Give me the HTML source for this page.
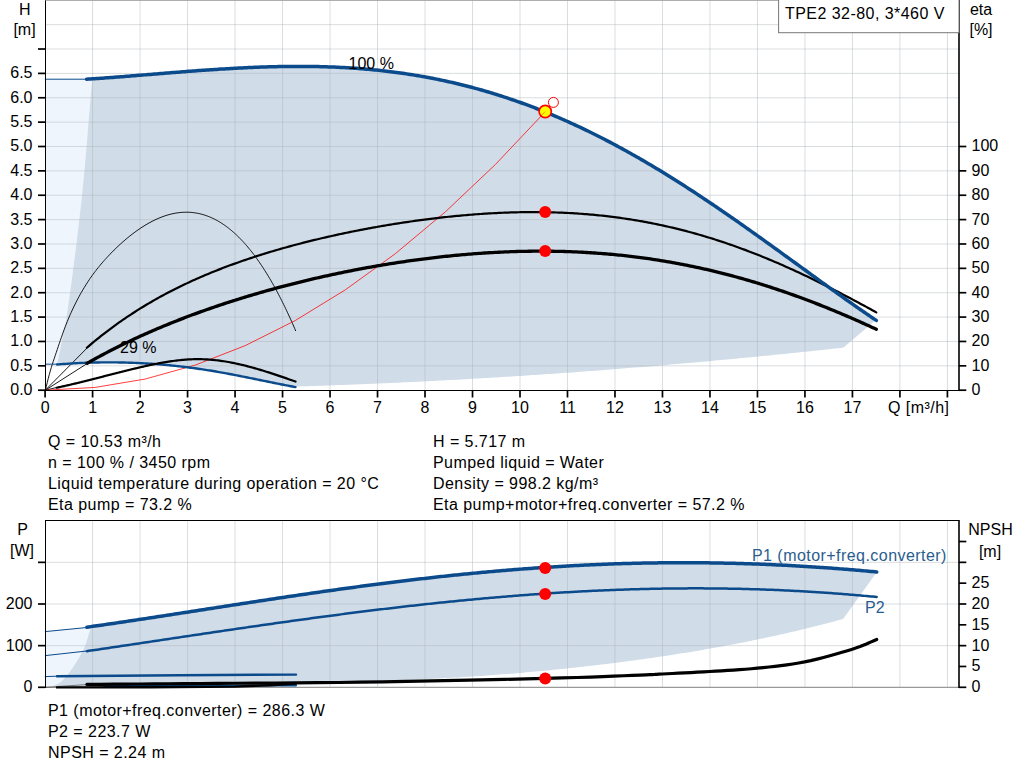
<!DOCTYPE html>
<html><head><meta charset="utf-8"><style>
html,body{margin:0;padding:0;background:#fff;overflow:hidden}
svg{display:block}
text{font-family:'Liberation Sans',sans-serif;font-size:16px;fill:#000}
.ls{letter-spacing:0.45px}
</style></head><body>
<svg width="1024" height="781" viewBox="0 0 1024 781">
<rect width="1024" height="781" fill="#fff"/>
<!-- upper chart -->
<path d="M45.30 79.00L92.20 78.85L88.70 120.00L85.40 160.00L81.50 200.00L76.90 240.00L71.80 280.00L66.10 320.00L59.00 364.20L45.30 364.20Z" fill="#eef5fd"/>
<path d="M92.20 78.85L92.60 78.83L94.60 78.69L96.60 78.55L98.60 78.41L100.59 78.27L102.59 78.13L104.59 77.99L106.59 77.84L108.59 77.69L110.59 77.54L112.59 77.39L114.59 77.24L116.59 77.09L118.59 76.94L120.59 76.78L122.59 76.63L124.59 76.47L126.58 76.32L128.58 76.16L130.58 76.00L132.58 75.84L134.58 75.68L136.58 75.52L138.58 75.36L140.58 75.20L142.58 75.04L144.58 74.88L146.58 74.71L148.58 74.55L150.58 74.39L152.57 74.23L154.57 74.07L156.57 73.90L158.57 73.74L160.57 73.58L162.57 73.42L164.57 73.26L166.57 73.10L168.57 72.93L170.57 72.77L172.57 72.62L174.57 72.46L176.57 72.30L178.57 72.14L180.56 71.99L182.56 71.83L184.56 71.68L186.56 71.52L188.56 71.37L190.56 71.22L192.56 71.07L194.56 70.92L196.56 70.77L198.56 70.62L200.56 70.48L202.56 70.34L204.56 70.19L206.55 70.05L208.55 69.92L210.55 69.78L212.55 69.64L214.55 69.51L216.55 69.38L218.55 69.25L220.55 69.12L222.55 69.00L224.55 68.88L226.55 68.76L228.55 68.64L230.55 68.52L232.54 68.41L234.54 68.30L236.54 68.19L238.54 68.08L240.54 67.98L242.54 67.88L244.54 67.78L246.54 67.68L248.54 67.59L250.54 67.50L252.54 67.41L254.54 67.33L256.54 67.25L258.53 67.17L260.53 67.10L262.53 67.03L264.53 66.96L266.53 66.90L268.53 66.84L270.53 66.78L272.53 66.73L274.53 66.68L276.53 66.63L278.53 66.59L280.53 66.55L282.53 66.51L284.52 66.48L286.52 66.45L288.52 66.43L290.52 66.41L292.52 66.40L294.52 66.39L296.52 66.38L298.52 66.38L300.52 66.38L302.52 66.38L304.52 66.39L306.52 66.41L308.52 66.43L310.51 66.45L312.51 66.48L314.51 66.51L316.51 66.55L318.51 66.59L320.51 66.64L322.51 66.69L324.51 66.75L326.51 66.81L328.51 66.88L330.51 66.95L332.51 67.03L334.51 67.11L336.51 67.20L338.50 67.29L340.50 67.39L342.50 67.49L344.50 67.60L346.50 67.72L348.50 67.84L350.50 67.96L352.50 68.09L354.50 68.23L356.50 68.37L358.50 68.52L360.50 68.67L362.50 68.83L364.49 69.00L366.49 69.17L368.49 69.34L370.49 69.53L372.49 69.71L374.49 69.91L376.49 70.11L378.49 70.32L380.49 70.53L382.49 70.75L384.49 70.97L386.49 71.21L388.49 71.44L390.48 71.69L392.48 71.94L394.48 72.19L396.48 72.46L398.48 72.73L400.48 73.00L402.48 73.29L404.48 73.58L406.48 73.87L408.48 74.18L410.48 74.48L412.48 74.80L414.48 75.12L416.47 75.45L418.47 75.79L420.47 76.13L422.47 76.48L424.47 76.84L426.47 77.20L428.47 77.57L430.47 77.95L432.47 78.34L434.47 78.73L436.47 79.13L438.47 79.53L440.47 79.95L442.46 80.37L444.46 80.79L446.46 81.23L448.46 81.67L450.46 82.12L452.46 82.58L454.46 83.04L456.46 83.51L458.46 83.99L460.46 84.47L462.46 84.97L464.46 85.47L466.46 85.97L468.45 86.49L470.45 87.01L472.45 87.54L474.45 88.08L476.45 88.62L478.45 89.18L480.45 89.74L482.45 90.30L484.45 90.88L486.45 91.46L488.45 92.05L490.45 92.65L492.45 93.25L494.45 93.86L496.44 94.49L498.44 95.11L500.44 95.75L502.44 96.39L504.44 97.04L506.44 97.70L508.44 98.37L510.44 99.04L512.44 99.72L514.44 100.41L516.44 101.11L518.44 101.81L520.44 102.52L522.43 103.24L524.43 103.97L526.43 104.71L528.43 105.45L530.43 106.20L532.43 106.96L534.43 107.72L536.43 108.50L538.43 109.28L540.43 110.07L542.43 110.86L544.43 111.67L546.43 112.48L548.42 113.30L550.42 114.13L552.42 114.96L554.42 115.80L556.42 116.65L558.42 117.51L560.42 118.37L562.42 119.25L564.42 120.13L566.42 121.01L568.42 121.91L570.42 122.81L572.42 123.72L574.41 124.64L576.41 125.57L578.41 126.50L580.41 127.44L582.41 128.39L584.41 129.34L586.41 130.30L588.41 131.27L590.41 132.25L592.41 133.23L594.41 134.23L596.41 135.22L598.41 136.23L600.40 137.24L602.40 138.26L604.40 139.29L606.40 140.33L608.40 141.37L610.40 142.42L612.40 143.47L614.40 144.54L616.40 145.60L618.40 146.68L620.40 147.77L622.40 148.86L624.40 149.95L626.39 151.06L628.39 152.17L630.39 153.29L632.39 154.41L634.39 155.54L636.39 156.68L638.39 157.82L640.39 158.97L642.39 160.13L644.39 161.29L646.39 162.46L648.39 163.64L650.39 164.82L652.39 166.01L654.38 167.20L656.38 168.41L658.38 169.61L660.38 170.83L662.38 172.04L664.38 173.27L666.38 174.50L668.38 175.74L670.38 176.98L672.38 178.23L674.38 179.48L676.38 180.74L678.38 182.01L680.37 183.28L682.37 184.55L684.37 185.83L686.37 187.12L688.37 188.41L690.37 189.71L692.37 191.01L694.37 192.32L696.37 193.63L698.37 194.94L700.37 196.27L702.37 197.59L704.37 198.92L706.36 200.26L708.36 201.60L710.36 202.94L712.36 204.29L714.36 205.65L716.36 207.00L718.36 208.36L720.36 209.73L722.36 211.10L724.36 212.47L726.36 213.85L728.36 215.23L730.36 216.62L732.35 218.00L734.35 219.39L736.35 220.79L738.35 222.19L740.35 223.59L742.35 224.99L744.35 226.40L746.35 227.81L748.35 229.23L750.35 230.64L752.35 232.06L754.35 233.48L756.35 234.91L758.34 236.33L760.34 237.76L762.34 239.19L764.34 240.62L766.34 242.06L768.34 243.49L770.34 244.93L772.34 246.37L774.34 247.81L776.34 249.26L778.34 250.70L780.34 252.14L782.34 253.59L784.33 255.04L786.33 256.49L788.33 257.93L790.33 259.38L792.33 260.83L794.33 262.28L796.33 263.73L798.33 265.18L800.33 266.63L802.33 268.08L804.33 269.53L806.33 270.98L808.33 272.43L810.33 273.88L812.32 275.33L814.32 276.78L816.32 278.22L818.32 279.67L820.32 281.11L822.32 282.55L824.32 283.99L826.32 285.43L828.32 286.87L830.32 288.30L832.32 289.74L834.32 291.17L836.32 292.60L838.31 294.02L840.31 295.45L842.31 296.87L844.31 298.28L846.31 299.70L848.31 301.11L850.31 302.51L852.31 303.92L854.31 305.32L856.31 306.71L858.31 308.11L860.31 309.49L862.31 310.88L864.30 312.26L866.30 313.63L868.30 315.00L870.30 316.36L872.30 317.72L874.30 319.08L876.30 320.42L876.30 319.60L843.60 347.61L840.61 347.94L837.62 348.26L834.63 348.59L831.64 348.92L828.65 349.24L825.66 349.56L822.67 349.88L819.67 350.20L816.68 350.52L813.69 350.84L810.70 351.15L807.71 351.47L804.72 351.78L801.73 352.09L798.74 352.40L795.75 352.71L792.76 353.02L789.77 353.33L786.78 353.64L783.79 353.94L780.80 354.25L777.80 354.55L774.81 354.85L771.82 355.15L768.83 355.45L765.84 355.75L762.85 356.04L759.86 356.34L756.87 356.63L753.88 356.92L750.89 357.22L747.90 357.51L744.91 357.80L741.92 358.08L738.93 358.37L735.93 358.66L732.94 358.94L729.95 359.22L726.96 359.50L723.97 359.79L720.98 360.06L717.99 360.34L715.00 360.62L712.01 360.89L709.02 361.17L706.03 361.44L703.04 361.71L700.05 361.98L697.06 362.25L694.06 362.52L691.07 362.79L688.08 363.05L685.09 363.32L682.10 363.58L679.11 363.84L676.12 364.10L673.13 364.36L670.14 364.62L667.15 364.88L664.16 365.13L661.17 365.39L658.18 365.64L655.19 365.89L652.19 366.14L649.20 366.39L646.21 366.64L643.22 366.88L640.23 367.13L637.24 367.37L634.25 367.61L631.26 367.86L628.27 368.10L625.28 368.34L622.29 368.57L619.30 368.81L616.31 369.04L613.32 369.28L610.32 369.51L607.33 369.74L604.34 369.97L601.35 370.20L598.36 370.43L595.37 370.65L592.38 370.88L589.39 371.10L586.40 371.32L583.41 371.54L580.42 371.76L577.43 371.98L574.44 372.20L571.45 372.41L568.45 372.63L565.46 372.84L562.47 373.05L559.48 373.26L556.49 373.47L553.50 373.68L550.51 373.89L547.52 374.09L544.53 374.29L541.54 374.50L538.55 374.70L535.56 374.90L532.57 375.10L529.58 375.29L526.58 375.49L523.59 375.68L520.60 375.88L517.61 376.07L514.62 376.26L511.63 376.45L508.64 376.64L505.65 376.82L502.66 377.01L499.67 377.19L496.68 377.38L493.69 377.56L490.70 377.74L487.71 377.92L484.71 378.09L481.72 378.27L478.73 378.44L475.74 378.62L472.75 378.79L469.76 378.96L466.77 379.13L463.78 379.30L460.79 379.46L457.80 379.63L454.81 379.79L451.82 379.95L448.83 380.12L445.84 380.28L442.84 380.43L439.85 380.59L436.86 380.75L433.87 380.90L430.88 381.05L427.89 381.21L424.90 381.36L421.91 381.51L418.92 381.65L415.93 381.80L412.94 381.94L409.95 382.09L406.96 382.23L403.97 382.37L400.97 382.51L397.98 382.65L394.99 382.78L392.00 382.92L389.01 383.05L386.02 383.19L383.03 383.32L380.04 383.45L377.05 383.58L374.06 383.70L371.07 383.83L368.08 383.95L365.09 384.08L362.10 384.20L359.10 384.32L356.11 384.44L353.12 384.55L350.13 384.67L347.14 384.78L344.15 384.90L341.16 385.01L338.17 385.12L335.18 385.23L332.19 385.34L329.20 385.44L326.21 385.55L323.22 385.65L320.23 385.75L317.23 385.85L314.24 385.95L311.25 386.05L308.26 386.15L305.27 386.24L302.28 386.34L299.29 386.43L296.30 386.52L294.00 386.81L292.50 386.53L291.00 386.25L289.51 385.96L288.01 385.68L286.51 385.39L285.01 385.09L283.51 384.80L282.01 384.51L280.51 384.21L279.01 383.91L277.52 383.61L276.02 383.31L274.52 383.01L273.02 382.71L271.52 382.40L270.02 382.10L268.52 381.79L267.02 381.49L265.53 381.18L264.03 380.87L262.53 380.57L261.03 380.26L259.53 379.95L258.03 379.64L256.53 379.34L255.03 379.03L253.54 378.73L252.04 378.42L250.54 378.12L249.04 377.81L247.54 377.51L246.04 377.21L244.54 376.91L243.04 376.61L241.55 376.31L240.05 376.01L238.55 375.72L237.05 375.42L235.55 375.13L234.05 374.84L232.55 374.55L231.05 374.27L229.56 373.98L228.06 373.70L226.56 373.42L225.06 373.15L223.56 372.87L222.06 372.60L220.56 372.33L219.06 372.07L217.57 371.81L216.07 371.55L214.57 371.29L213.07 371.04L211.57 370.79L210.07 370.55L208.57 370.31L207.07 370.07L205.58 369.84L204.08 369.61L202.58 369.38L201.08 369.16L199.58 368.94L198.08 368.72L196.58 368.51L195.08 368.30L193.59 368.10L192.09 367.90L190.59 367.70L189.09 367.50L187.59 367.31L186.09 367.13L184.59 366.94L183.09 366.76L181.60 366.59L180.10 366.41L178.60 366.24L177.10 366.08L175.60 365.92L174.10 365.76L172.60 365.60L171.10 365.45L169.61 365.31L168.11 365.16L166.61 365.02L165.11 364.89L163.61 364.75L162.11 364.62L160.61 364.50L159.11 364.37L157.62 364.26L156.12 364.14L154.62 364.03L153.12 363.92L151.62 363.82L150.12 363.72L148.62 363.62L147.12 363.53L145.63 363.44L144.13 363.35L142.63 363.27L141.13 363.19L139.63 363.11L138.13 363.04L136.63 362.97L135.13 362.91L133.64 362.85L132.14 362.79L130.64 362.74L129.14 362.69L127.64 362.64L126.14 362.60L124.64 362.56L123.14 362.52L121.65 362.49L120.15 362.46L118.65 362.44L117.15 362.42L115.65 362.40L114.15 362.39L112.65 362.38L111.15 362.37L109.66 362.37L108.16 362.37L106.66 362.37L105.16 362.38L103.66 362.39L102.16 362.40L100.66 362.42L99.16 362.44L97.67 362.47L96.17 362.50L94.67 362.53L93.17 362.57L91.67 362.61L90.17 362.65L88.67 362.70L87.17 362.75L85.68 362.81L84.18 362.86L82.68 362.93L81.18 362.99L79.68 363.06L78.18 363.13L76.68 363.21L75.18 363.29L73.69 363.37L72.19 363.46L70.69 363.55L69.19 363.64L67.69 363.74L66.19 363.84L64.69 363.95L63.19 364.06L61.70 364.17L60.20 364.29L58.70 364.41L57.20 364.53L66.10 320.00L71.80 280.00L76.90 240.00L81.50 200.00L85.40 160.00L88.70 120.00Z" fill="#d0dce8"/>
<g stroke="#aeb3b8" stroke-opacity="0.45" stroke-width="1">
<line x1="92.59" y1="0" x2="92.59" y2="390.2"/>
<line x1="140.08" y1="0" x2="140.08" y2="390.2"/>
<line x1="187.57" y1="0" x2="187.57" y2="390.2"/>
<line x1="235.06" y1="0" x2="235.06" y2="390.2"/>
<line x1="282.55" y1="0" x2="282.55" y2="390.2"/>
<line x1="330.04" y1="0" x2="330.04" y2="390.2"/>
<line x1="377.53" y1="0" x2="377.53" y2="390.2"/>
<line x1="425.02" y1="0" x2="425.02" y2="390.2"/>
<line x1="472.51" y1="0" x2="472.51" y2="390.2"/>
<line x1="520.00" y1="0" x2="520.00" y2="390.2"/>
<line x1="567.49" y1="0" x2="567.49" y2="390.2"/>
<line x1="614.98" y1="0" x2="614.98" y2="390.2"/>
<line x1="662.47" y1="0" x2="662.47" y2="390.2"/>
<line x1="709.96" y1="0" x2="709.96" y2="390.2"/>
<line x1="757.45" y1="0" x2="757.45" y2="390.2"/>
<line x1="804.94" y1="0" x2="804.94" y2="390.2"/>
<line x1="852.43" y1="0" x2="852.43" y2="390.2"/>
<line x1="899.92" y1="0" x2="899.92" y2="390.2"/>
<line x1="947.41" y1="0" x2="947.41" y2="390.2"/>
<line x1="45.3" y1="365.83" x2="959" y2="365.83"/>
<line x1="45.3" y1="341.46" x2="959" y2="341.46"/>
<line x1="45.3" y1="317.09" x2="959" y2="317.09"/>
<line x1="45.3" y1="292.72" x2="959" y2="292.72"/>
<line x1="45.3" y1="268.35" x2="959" y2="268.35"/>
<line x1="45.3" y1="243.98" x2="959" y2="243.98"/>
<line x1="45.3" y1="219.61" x2="959" y2="219.61"/>
<line x1="45.3" y1="195.24" x2="959" y2="195.24"/>
<line x1="45.3" y1="170.87" x2="959" y2="170.87"/>
<line x1="45.3" y1="146.50" x2="959" y2="146.50"/>
<line x1="45.3" y1="122.13" x2="959" y2="122.13"/>
<line x1="45.3" y1="97.76" x2="959" y2="97.76"/>
<line x1="45.3" y1="73.39" x2="959" y2="73.39"/>
<line x1="45.3" y1="49.02" x2="959" y2="49.02"/>
<line x1="45.3" y1="24.65" x2="959" y2="24.65"/>
</g>
<g fill="none" stroke-linecap="round" stroke-linejoin="round">
<path d="M45.30 390.80L46.30 386.53L47.29 382.35L48.29 378.33L49.29 374.54L50.29 370.98L51.28 367.62L52.28 364.43L53.28 361.36L54.27 358.37L55.27 355.42L56.27 352.47L57.27 349.50L58.26 346.53L59.26 343.57L60.26 340.63L61.26 337.72L62.25 334.86L63.25 332.07L64.25 329.34L65.24 326.70L66.24 324.13L67.24 321.64L68.24 319.21L69.23 316.86L70.23 314.56L71.23 312.33L72.22 310.16L73.22 308.04L74.22 305.97L75.22 303.94L76.21 301.97L77.21 300.03L78.21 298.14L79.21 296.29L80.20 294.48L81.20 292.71L82.20 290.98L83.19 289.28L84.19 287.62L85.19 286.00L86.19 284.41L87.18 282.86L88.18 281.33L89.18 279.84L90.17 278.38L91.17 276.95L92.17 275.55L93.17 274.17L94.16 272.82L95.16 271.50L96.16 270.21L97.15 268.93L98.15 267.68L99.15 266.45L100.15 265.24L101.14 264.06L102.14 262.89L103.14 261.74L104.14 260.61L105.13 259.49L106.13 258.39L107.13 257.30L108.12 256.22L109.12 255.16L110.12 254.12L111.12 253.08L112.11 252.06L113.11 251.06L114.11 250.06L115.10 249.08L116.10 248.11L117.10 247.16L118.10 246.21L119.09 245.28L120.09 244.36L121.09 243.46L122.09 242.57L123.08 241.68L124.08 240.82L125.08 239.96L126.07 239.11L127.07 238.28L128.07 237.46L129.07 236.65L130.06 235.85L131.06 235.07L132.06 234.29L133.05 233.53L134.05 232.78L135.05 232.04L136.05 231.32L137.04 230.60L138.04 229.90L139.04 229.21L140.04 228.53L141.03 227.86L142.03 227.21L143.03 226.57L144.02 225.94L145.02 225.33L146.02 224.73L147.02 224.14L148.01 223.56L149.01 223.00L150.01 222.45L151.00 221.91L152.00 221.39L153.00 220.88L154.00 220.39L154.99 219.90L155.99 219.43L156.99 218.98L157.98 218.54L158.98 218.11L159.98 217.70L160.98 217.30L161.97 216.92L162.97 216.55L163.97 216.19L164.97 215.85L165.96 215.53L166.96 215.22L167.96 214.92L168.95 214.64L169.95 214.37L170.95 214.12L171.95 213.88L172.94 213.66L173.94 213.46L174.94 213.27L175.93 213.09L176.93 212.93L177.93 212.79L178.93 212.66L179.92 212.55L180.92 212.45L181.92 212.38L182.92 212.31L183.91 212.26L184.91 212.23L185.91 212.22L186.90 212.22L187.90 212.24L188.90 212.27L189.90 212.32L190.89 212.39L191.89 212.48L192.89 212.58L193.88 212.70L194.88 212.84L195.88 212.99L196.88 213.16L197.87 213.35L198.87 213.56L199.87 213.78L200.86 214.02L201.86 214.28L202.86 214.56L203.86 214.85L204.85 215.17L205.85 215.50L206.85 215.85L207.85 216.22L208.84 216.60L209.84 217.01L210.84 217.43L211.83 217.87L212.83 218.33L213.83 218.81L214.83 219.31L215.82 219.83L216.82 220.37L217.82 220.92L218.81 221.50L219.81 222.09L220.81 222.71L221.81 223.34L222.80 223.99L223.80 224.67L224.80 225.36L225.80 226.07L226.79 226.81L227.79 227.56L228.79 228.33L229.78 229.13L230.78 229.94L231.78 230.77L232.78 231.63L233.77 232.50L234.77 233.40L235.77 234.32L236.76 235.25L237.76 236.21L238.76 237.19L239.76 238.19L240.75 239.21L241.75 240.26L242.75 241.32L243.75 242.41L244.74 243.51L245.74 244.64L246.74 245.79L247.73 246.97L248.73 248.16L249.73 249.38L250.73 250.62L251.72 251.88L252.72 253.16L253.72 254.47L254.71 255.79L255.71 257.15L256.71 258.52L257.71 259.91L258.70 261.33L259.70 262.77L260.70 264.24L261.69 265.73L262.69 267.24L263.69 268.77L264.69 270.33L265.68 271.91L266.68 273.51L267.68 275.14L268.68 276.79L269.67 278.47L270.67 280.17L271.67 281.89L272.66 283.64L273.66 285.41L274.66 287.20L275.66 289.02L276.65 290.87L277.65 292.74L278.65 294.63L279.64 296.55L280.64 298.49L281.64 300.46L282.64 302.45L283.63 304.47L284.63 306.51L285.63 308.58L286.63 310.67L287.62 312.79L288.62 314.93L289.62 317.10L290.61 319.29L291.61 321.51L292.61 323.76L293.61 326.03L294.60 328.33L295.60 330.65" stroke="#000" stroke-width="0.9"/>
<path d="M45.3 390.2L86.8 348.3" stroke="#000" stroke-width="0.9"/>
<path d="M45.3 390.2L87.2 363.5" stroke="#000" stroke-width="0.9"/>
<path d="M45.3 390.2L56.7 387.5" stroke="#000" stroke-width="0.9"/>
<path d="M45.10 390.20L95.13 387.41L145.16 379.05L195.19 365.12L245.22 345.62L295.25 320.54L345.28 289.89L395.32 253.66L445.35 211.87L495.38 164.50L545.41 111.55L553.40 102.32" stroke="#ff0000" stroke-width="1" stroke-opacity="0.75"/>
<path d="M45.3 364.2L57.2 364.2" stroke="#0b4a8b" stroke-width="1"/>
<path d="M57.20 364.53L58.70 364.41L60.20 364.29L61.70 364.17L63.19 364.06L64.69 363.95L66.19 363.84L67.69 363.74L69.19 363.64L70.69 363.55L72.19 363.46L73.69 363.37L75.18 363.29L76.68 363.21L78.18 363.13L79.68 363.06L81.18 362.99L82.68 362.93L84.18 362.86L85.68 362.81L87.17 362.75L88.67 362.70L90.17 362.65L91.67 362.61L93.17 362.57L94.67 362.53L96.17 362.50L97.67 362.47L99.16 362.44L100.66 362.42L102.16 362.40L103.66 362.39L105.16 362.38L106.66 362.37L108.16 362.37L109.66 362.37L111.15 362.37L112.65 362.38L114.15 362.39L115.65 362.40L117.15 362.42L118.65 362.44L120.15 362.46L121.65 362.49L123.14 362.52L124.64 362.56L126.14 362.60L127.64 362.64L129.14 362.69L130.64 362.74L132.14 362.79L133.64 362.85L135.13 362.91L136.63 362.97L138.13 363.04L139.63 363.11L141.13 363.19L142.63 363.27L144.13 363.35L145.63 363.44L147.12 363.53L148.62 363.62L150.12 363.72L151.62 363.82L153.12 363.92L154.62 364.03L156.12 364.14L157.62 364.26L159.11 364.37L160.61 364.50L162.11 364.62L163.61 364.75L165.11 364.89L166.61 365.02L168.11 365.16L169.61 365.31L171.10 365.45L172.60 365.60L174.10 365.76L175.60 365.92L177.10 366.08L178.60 366.24L180.10 366.41L181.60 366.59L183.09 366.76L184.59 366.94L186.09 367.13L187.59 367.31L189.09 367.50L190.59 367.70L192.09 367.90L193.59 368.10L195.08 368.30L196.58 368.51L198.08 368.72L199.58 368.94L201.08 369.16L202.58 369.38L204.08 369.61L205.58 369.84L207.07 370.07L208.57 370.31L210.07 370.55L211.57 370.79L213.07 371.04L214.57 371.29L216.07 371.55L217.57 371.81L219.06 372.07L220.56 372.33L222.06 372.60L223.56 372.87L225.06 373.15L226.56 373.42L228.06 373.70L229.56 373.98L231.05 374.27L232.55 374.55L234.05 374.84L235.55 375.13L237.05 375.42L238.55 375.72L240.05 376.01L241.55 376.31L243.04 376.61L244.54 376.91L246.04 377.21L247.54 377.51L249.04 377.81L250.54 378.12L252.04 378.42L253.54 378.73L255.03 379.03L256.53 379.34L258.03 379.64L259.53 379.95L261.03 380.26L262.53 380.57L264.03 380.87L265.53 381.18L267.02 381.49L268.52 381.79L270.02 382.10L271.52 382.40L273.02 382.71L274.52 383.01L276.02 383.31L277.52 383.61L279.01 383.91L280.51 384.21L282.01 384.51L283.51 384.80L285.01 385.09L286.51 385.39L288.01 385.68L289.51 385.96L291.00 386.25L292.50 386.53L294.00 386.81L295.50 387.09" stroke="#0b4a8b" stroke-width="2.4"/>
<path d="M56.70 387.72L58.19 387.41L59.69 387.09L61.18 386.76L62.67 386.43L64.16 386.10L65.66 385.76L67.15 385.42L68.64 385.08L70.13 384.74L71.62 384.39L73.12 384.03L74.61 383.68L76.10 383.32L77.59 382.96L79.09 382.60L80.58 382.23L82.07 381.86L83.56 381.50L85.06 381.12L86.55 380.75L88.04 380.38L89.53 380.00L91.03 379.62L92.52 379.24L94.01 378.86L95.51 378.48L97.00 378.10L98.49 377.72L99.98 377.33L101.48 376.95L102.97 376.57L104.46 376.18L105.95 375.80L107.45 375.41L108.94 375.03L110.43 374.65L111.92 374.26L113.42 373.88L114.91 373.50L116.40 373.12L117.89 372.74L119.39 372.36L120.88 371.99L122.37 371.61L123.86 371.24L125.36 370.86L126.85 370.49L128.34 370.13L129.83 369.76L131.33 369.40L132.82 369.03L134.31 368.68L135.80 368.32L137.30 367.97L138.79 367.61L140.28 367.27L141.77 366.92L143.27 366.58L144.76 366.25L146.25 365.91L147.74 365.58L149.24 365.26L150.73 364.94L152.22 364.63L153.71 364.32L155.21 364.02L156.70 363.72L158.19 363.44L159.68 363.15L161.18 362.88L162.67 362.61L164.16 362.35L165.65 362.10L167.15 361.85L168.64 361.62L170.13 361.39L171.62 361.17L173.12 360.97L174.61 360.77L176.10 360.58L177.59 360.40L179.09 360.23L180.58 360.08L182.07 359.93L183.56 359.80L185.06 359.68L186.55 359.57L188.04 359.47L189.53 359.38L191.03 359.31L192.52 359.25L194.01 359.21L195.50 359.18L197.00 359.16L198.49 359.16L199.98 359.17L201.47 359.19L202.97 359.24L204.46 359.29L205.95 359.36L207.44 359.45L208.94 359.55L210.43 359.66L211.92 359.79L213.41 359.93L214.91 360.08L216.40 360.25L217.89 360.43L219.38 360.62L220.88 360.82L222.37 361.04L223.86 361.26L225.35 361.50L226.85 361.75L228.34 362.01L229.83 362.29L231.32 362.57L232.81 362.86L234.31 363.17L235.80 363.48L237.29 363.80L238.79 364.13L240.28 364.48L241.77 364.83L243.26 365.19L244.75 365.55L246.25 365.93L247.74 366.32L249.23 366.71L250.73 367.11L252.22 367.52L253.71 367.93L255.20 368.35L256.70 368.78L258.19 369.22L259.68 369.66L261.17 370.10L262.67 370.56L264.16 371.02L265.65 371.48L267.14 371.95L268.64 372.42L270.13 372.90L271.62 373.39L273.11 373.87L274.61 374.36L276.10 374.86L277.59 375.36L279.08 375.86L280.58 376.37L282.07 376.87L283.56 377.38L285.05 377.90L286.55 378.41L288.04 378.93L289.53 379.45L291.02 379.97L292.52 380.49L294.01 381.01L295.50 381.54" stroke="#000" stroke-width="2.2"/>
<path d="M86.80 347.76L88.80 346.05L90.80 344.35L92.80 342.68L94.79 341.02L96.79 339.39L98.79 337.78L100.79 336.19L102.79 334.62L104.79 333.06L106.79 331.53L108.79 330.02L110.78 328.52L112.78 327.04L114.78 325.59L116.78 324.15L118.78 322.72L120.78 321.32L122.78 319.93L124.78 318.56L126.77 317.21L128.77 315.87L130.77 314.55L132.77 313.25L134.77 311.96L136.77 310.69L138.77 309.43L140.77 308.19L142.76 306.96L144.76 305.75L146.76 304.55L148.76 303.37L150.76 302.20L152.76 301.05L154.76 299.90L156.76 298.78L158.75 297.66L160.75 296.56L162.75 295.48L164.75 294.40L166.75 293.34L168.75 292.29L170.75 291.25L172.75 290.23L174.74 289.22L176.74 288.22L178.74 287.23L180.74 286.25L182.74 285.28L184.74 284.33L186.74 283.38L188.74 282.45L190.73 281.53L192.73 280.61L194.73 279.71L196.73 278.82L198.73 277.94L200.73 277.07L202.73 276.21L204.73 275.35L206.72 274.51L208.72 273.68L210.72 272.85L212.72 272.04L214.72 271.23L216.72 270.43L218.72 269.64L220.72 268.86L222.71 268.09L224.71 267.33L226.71 266.57L228.71 265.82L230.71 265.08L232.71 264.35L234.71 263.63L236.71 262.91L238.70 262.20L240.70 261.50L242.70 260.81L244.70 260.12L246.70 259.44L248.70 258.77L250.70 258.10L252.69 257.44L254.69 256.79L256.69 256.14L258.69 255.50L260.69 254.87L262.69 254.24L264.69 253.62L266.69 253.01L268.68 252.40L270.68 251.80L272.68 251.20L274.68 250.61L276.68 250.03L278.68 249.45L280.68 248.88L282.68 248.31L284.67 247.75L286.67 247.19L288.67 246.64L290.67 246.09L292.67 245.55L294.67 245.02L296.67 244.48L298.67 243.96L300.66 243.44L302.66 242.92L304.66 242.41L306.66 241.91L308.66 241.41L310.66 240.91L312.66 240.42L314.66 239.93L316.65 239.45L318.65 238.97L320.65 238.50L322.65 238.03L324.65 237.57L326.65 237.11L328.65 236.65L330.65 236.20L332.64 235.76L334.64 235.31L336.64 234.88L338.64 234.44L340.64 234.01L342.64 233.59L344.64 233.17L346.64 232.75L348.63 232.34L350.63 231.93L352.63 231.53L354.63 231.12L356.63 230.73L358.63 230.34L360.63 229.95L362.63 229.56L364.62 229.18L366.62 228.81L368.62 228.43L370.62 228.07L372.62 227.70L374.62 227.34L376.62 226.98L378.62 226.63L380.61 226.28L382.61 225.94L384.61 225.59L386.61 225.26L388.61 224.92L390.61 224.59L392.61 224.27L394.61 223.95L396.60 223.63L398.60 223.32L400.60 223.01L402.60 222.70L404.60 222.40L406.60 222.10L408.60 221.81L410.59 221.52L412.59 221.23L414.59 220.95L416.59 220.67L418.59 220.40L420.59 220.12L422.59 219.86L424.59 219.60L426.58 219.34L428.58 219.08L430.58 218.83L432.58 218.59L434.58 218.35L436.58 218.11L438.58 217.88L440.58 217.65L442.57 217.42L444.57 217.20L446.57 216.99L448.57 216.77L450.57 216.57L452.57 216.36L454.57 216.16L456.57 215.97L458.56 215.78L460.56 215.59L462.56 215.41L464.56 215.23L466.56 215.06L468.56 214.89L470.56 214.73L472.56 214.57L474.55 214.42L476.55 214.27L478.55 214.12L480.55 213.98L482.55 213.85L484.55 213.71L486.55 213.59L488.55 213.47L490.54 213.35L492.54 213.24L494.54 213.13L496.54 213.03L498.54 212.94L500.54 212.84L502.54 212.76L504.54 212.68L506.53 212.60L508.53 212.53L510.53 212.47L512.53 212.40L514.53 212.35L516.53 212.30L518.53 212.26L520.53 212.22L522.52 212.18L524.52 212.15L526.52 212.13L528.52 212.12L530.52 212.10L532.52 212.10L534.52 212.10L536.52 212.10L538.51 212.11L540.51 212.13L542.51 212.15L544.51 212.18L546.51 212.22L548.51 212.26L550.51 212.30L552.51 212.36L554.50 212.41L556.50 212.48L558.50 212.55L560.50 212.62L562.50 212.71L564.50 212.80L566.50 212.89L568.49 212.99L570.49 213.10L572.49 213.21L574.49 213.33L576.49 213.46L578.49 213.59L580.49 213.73L582.49 213.88L584.48 214.03L586.48 214.19L588.48 214.36L590.48 214.53L592.48 214.71L594.48 214.90L596.48 215.09L598.48 215.29L600.47 215.50L602.47 215.71L604.47 215.93L606.47 216.16L608.47 216.39L610.47 216.63L612.47 216.88L614.47 217.13L616.46 217.39L618.46 217.66L620.46 217.94L622.46 218.22L624.46 218.51L626.46 218.81L628.46 219.12L630.46 219.43L632.45 219.75L634.45 220.07L636.45 220.41L638.45 220.75L640.45 221.10L642.45 221.45L644.45 221.82L646.45 222.19L648.44 222.57L650.44 222.95L652.44 223.34L654.44 223.74L656.44 224.15L658.44 224.57L660.44 224.99L662.44 225.42L664.43 225.86L666.43 226.31L668.43 226.76L670.43 227.22L672.43 227.69L674.43 228.17L676.43 228.65L678.43 229.14L680.42 229.64L682.42 230.15L684.42 230.66L686.42 231.18L688.42 231.71L690.42 232.25L692.42 232.80L694.42 233.35L696.41 233.91L698.41 234.48L700.41 235.05L702.41 235.64L704.41 236.23L706.41 236.83L708.41 237.43L710.41 238.05L712.40 238.67L714.40 239.30L716.40 239.94L718.40 240.58L720.40 241.23L722.40 241.89L724.40 242.56L726.39 243.24L728.39 243.92L730.39 244.61L732.39 245.31L734.39 246.01L736.39 246.73L738.39 247.45L740.39 248.17L742.38 248.91L744.38 249.65L746.38 250.40L748.38 251.16L750.38 251.92L752.38 252.69L754.38 253.47L756.38 254.26L758.37 255.05L760.37 255.85L762.37 256.66L764.37 257.47L766.37 258.29L768.37 259.12L770.37 259.95L772.37 260.80L774.36 261.64L776.36 262.50L778.36 263.36L780.36 264.23L782.36 265.11L784.36 265.99L786.36 266.88L788.36 267.77L790.35 268.67L792.35 269.58L794.35 270.49L796.35 271.41L798.35 272.34L800.35 273.27L802.35 274.21L804.35 275.15L806.34 276.10L808.34 277.06L810.34 278.02L812.34 278.99L814.34 279.96L816.34 280.94L818.34 281.92L820.34 282.91L822.33 283.90L824.33 284.90L826.33 285.91L828.33 286.92L830.33 287.93L832.33 288.95L834.33 289.97L836.33 291.00L838.32 292.03L840.32 293.07L842.32 294.11L844.32 295.16L846.32 296.21L848.32 297.26L850.32 298.32L852.32 299.38L854.31 300.44L856.31 301.51L858.31 302.58L860.31 303.66L862.31 304.74L864.31 305.82L866.31 306.90L868.31 307.99L870.30 309.08L872.30 310.17L874.30 311.26L876.30 312.36" stroke="#000" stroke-width="2.2"/>
<path d="M87.20 363.19L89.20 362.07L91.20 360.95L93.19 359.84L95.19 358.75L97.19 357.66L99.19 356.58L101.18 355.51L103.18 354.45L105.18 353.40L107.18 352.35L109.17 351.32L111.17 350.29L113.17 349.27L115.17 348.26L117.17 347.26L119.16 346.27L121.16 345.28L123.16 344.31L125.16 343.34L127.15 342.38L129.15 341.42L131.15 340.48L133.15 339.54L135.15 338.61L137.14 337.68L139.14 336.77L141.14 335.86L143.14 334.96L145.13 334.06L147.13 333.17L149.13 332.29L151.13 331.42L153.12 330.55L155.12 329.69L157.12 328.84L159.12 327.99L161.12 327.15L163.11 326.32L165.11 325.49L167.11 324.67L169.11 323.86L171.10 323.05L173.10 322.25L175.10 321.46L177.10 320.67L179.10 319.88L181.09 319.11L183.09 318.34L185.09 317.57L187.09 316.81L189.08 316.06L191.08 315.31L193.08 314.57L195.08 313.83L197.07 313.10L199.07 312.37L201.07 311.65L203.07 310.94L205.07 310.23L207.06 309.53L209.06 308.83L211.06 308.14L213.06 307.45L215.05 306.76L217.05 306.09L219.05 305.41L221.05 304.75L223.05 304.08L225.04 303.43L227.04 302.77L229.04 302.13L231.04 301.48L233.03 300.85L235.03 300.21L237.03 299.58L239.03 298.96L241.02 298.34L243.02 297.73L245.02 297.12L247.02 296.51L249.02 295.91L251.01 295.31L253.01 294.72L255.01 294.14L257.01 293.55L259.00 292.97L261.00 292.40L263.00 291.83L265.00 291.26L266.99 290.70L268.99 290.15L270.99 289.59L272.99 289.05L274.99 288.50L276.98 287.96L278.98 287.43L280.98 286.89L282.98 286.37L284.97 285.84L286.97 285.32L288.97 284.81L290.97 284.30L292.97 283.79L294.96 283.29L296.96 282.79L298.96 282.29L300.96 281.80L302.95 281.31L304.95 280.83L306.95 280.35L308.95 279.88L310.94 279.40L312.94 278.94L314.94 278.47L316.94 278.01L318.94 277.56L320.93 277.10L322.93 276.65L324.93 276.21L326.93 275.77L328.92 275.33L330.92 274.90L332.92 274.47L334.92 274.04L336.92 273.62L338.91 273.20L340.91 272.79L342.91 272.38L344.91 271.97L346.90 271.57L348.90 271.17L350.90 270.77L352.90 270.38L354.89 269.99L356.89 269.61L358.89 269.23L360.89 268.85L362.89 268.48L364.88 268.11L366.88 267.74L368.88 267.38L370.88 267.02L372.87 266.67L374.87 266.32L376.87 265.97L378.87 265.63L380.87 265.29L382.86 264.96L384.86 264.62L386.86 264.30L388.86 263.97L390.85 263.65L392.85 263.33L394.85 263.02L396.85 262.71L398.84 262.41L400.84 262.11L402.84 261.81L404.84 261.51L406.84 261.22L408.83 260.94L410.83 260.66L412.83 260.38L414.83 260.10L416.82 259.83L418.82 259.57L420.82 259.30L422.82 259.04L424.81 258.79L426.81 258.54L428.81 258.29L430.81 258.05L432.81 257.81L434.80 257.57L436.80 257.34L438.80 257.11L440.80 256.89L442.79 256.67L444.79 256.46L446.79 256.25L448.79 256.04L450.79 255.84L452.78 255.64L454.78 255.44L456.78 255.25L458.78 255.06L460.77 254.88L462.77 254.70L464.77 254.53L466.77 254.36L468.76 254.19L470.76 254.03L472.76 253.88L474.76 253.72L476.76 253.57L478.75 253.43L480.75 253.29L482.75 253.15L484.75 253.02L486.74 252.90L488.74 252.77L490.74 252.65L492.74 252.54L494.74 252.43L496.73 252.33L498.73 252.23L500.73 252.13L502.73 252.04L504.72 251.95L506.72 251.87L508.72 251.79L510.72 251.72L512.71 251.65L514.71 251.58L516.71 251.52L518.71 251.47L520.71 251.42L522.70 251.37L524.70 251.33L526.70 251.30L528.70 251.26L530.69 251.24L532.69 251.22L534.69 251.20L536.69 251.19L538.69 251.18L540.68 251.17L542.68 251.18L544.68 251.18L546.68 251.20L548.67 251.21L550.67 251.23L552.67 251.26L554.67 251.29L556.66 251.33L558.66 251.37L560.66 251.42L562.66 251.47L564.66 251.52L566.65 251.59L568.65 251.65L570.65 251.72L572.65 251.80L574.64 251.88L576.64 251.97L578.64 252.06L580.64 252.16L582.63 252.26L584.63 252.37L586.63 252.49L588.63 252.60L590.63 252.73L592.62 252.86L594.62 252.99L596.62 253.13L598.62 253.28L600.61 253.43L602.61 253.58L604.61 253.75L606.61 253.91L608.61 254.09L610.60 254.26L612.60 254.45L614.60 254.64L616.60 254.83L618.59 255.03L620.59 255.23L622.59 255.45L624.59 255.66L626.58 255.88L628.58 256.11L630.58 256.34L632.58 256.58L634.58 256.83L636.57 257.08L638.57 257.33L640.57 257.60L642.57 257.86L644.56 258.14L646.56 258.41L648.56 258.70L650.56 258.99L652.56 259.28L654.55 259.59L656.55 259.89L658.55 260.21L660.55 260.53L662.54 260.85L664.54 261.18L666.54 261.52L668.54 261.86L670.53 262.21L672.53 262.56L674.53 262.92L676.53 263.29L678.53 263.66L680.52 264.04L682.52 264.42L684.52 264.81L686.52 265.20L688.51 265.60L690.51 266.01L692.51 266.42L694.51 266.84L696.51 267.27L698.50 267.70L700.50 268.13L702.50 268.58L704.50 269.03L706.49 269.48L708.49 269.94L710.49 270.41L712.49 270.88L714.48 271.36L716.48 271.84L718.48 272.33L720.48 272.83L722.48 273.33L724.47 273.84L726.47 274.35L728.47 274.87L730.47 275.40L732.46 275.93L734.46 276.47L736.46 277.02L738.46 277.57L740.45 278.12L742.45 278.68L744.45 279.25L746.45 279.83L748.45 280.41L750.44 280.99L752.44 281.58L754.44 282.18L756.44 282.79L758.43 283.39L760.43 284.01L762.43 284.63L764.43 285.26L766.43 285.89L768.42 286.53L770.42 287.18L772.42 287.83L774.42 288.48L776.41 289.15L778.41 289.81L780.41 290.49L782.41 291.17L784.40 291.85L786.40 292.55L788.40 293.24L790.40 293.95L792.40 294.65L794.39 295.37L796.39 296.09L798.39 296.81L800.39 297.54L802.38 298.28L804.38 299.02L806.38 299.77L808.38 300.53L810.38 301.29L812.37 302.05L814.37 302.82L816.37 303.60L818.37 304.38L820.36 305.16L822.36 305.96L824.36 306.75L826.36 307.55L828.35 308.36L830.35 309.18L832.35 309.99L834.35 310.82L836.35 311.65L838.34 312.48L840.34 313.32L842.34 314.16L844.34 315.01L846.33 315.87L848.33 316.73L850.33 317.59L852.33 318.46L854.33 319.34L856.32 320.22L858.32 321.10L860.32 321.99L862.32 322.88L864.31 323.78L866.31 324.68L868.31 325.59L870.31 326.50L872.30 327.42L874.30 328.34L876.30 329.27" stroke="#000" stroke-width="3.3"/>
<path d="M45.3 79.2L86.6 79.2" stroke="#0b4a8b" stroke-width="1"/>
<path d="M86.60 79.22L88.60 79.09L90.60 78.96L92.60 78.83L94.60 78.69L96.60 78.55L98.60 78.41L100.59 78.27L102.59 78.13L104.59 77.99L106.59 77.84L108.59 77.69L110.59 77.54L112.59 77.39L114.59 77.24L116.59 77.09L118.59 76.94L120.59 76.78L122.59 76.63L124.59 76.47L126.58 76.32L128.58 76.16L130.58 76.00L132.58 75.84L134.58 75.68L136.58 75.52L138.58 75.36L140.58 75.20L142.58 75.04L144.58 74.88L146.58 74.71L148.58 74.55L150.58 74.39L152.57 74.23L154.57 74.07L156.57 73.90L158.57 73.74L160.57 73.58L162.57 73.42L164.57 73.26L166.57 73.10L168.57 72.93L170.57 72.77L172.57 72.62L174.57 72.46L176.57 72.30L178.57 72.14L180.56 71.99L182.56 71.83L184.56 71.68L186.56 71.52L188.56 71.37L190.56 71.22L192.56 71.07L194.56 70.92L196.56 70.77L198.56 70.62L200.56 70.48L202.56 70.34L204.56 70.19L206.55 70.05L208.55 69.92L210.55 69.78L212.55 69.64L214.55 69.51L216.55 69.38L218.55 69.25L220.55 69.12L222.55 69.00L224.55 68.88L226.55 68.76L228.55 68.64L230.55 68.52L232.54 68.41L234.54 68.30L236.54 68.19L238.54 68.08L240.54 67.98L242.54 67.88L244.54 67.78L246.54 67.68L248.54 67.59L250.54 67.50L252.54 67.41L254.54 67.33L256.54 67.25L258.53 67.17L260.53 67.10L262.53 67.03L264.53 66.96L266.53 66.90L268.53 66.84L270.53 66.78L272.53 66.73L274.53 66.68L276.53 66.63L278.53 66.59L280.53 66.55L282.53 66.51L284.52 66.48L286.52 66.45L288.52 66.43L290.52 66.41L292.52 66.40L294.52 66.39L296.52 66.38L298.52 66.38L300.52 66.38L302.52 66.38L304.52 66.39L306.52 66.41L308.52 66.43L310.51 66.45L312.51 66.48L314.51 66.51L316.51 66.55L318.51 66.59L320.51 66.64L322.51 66.69L324.51 66.75L326.51 66.81L328.51 66.88L330.51 66.95L332.51 67.03L334.51 67.11L336.51 67.20L338.50 67.29L340.50 67.39L342.50 67.49L344.50 67.60L346.50 67.72L348.50 67.84L350.50 67.96L352.50 68.09L354.50 68.23L356.50 68.37L358.50 68.52L360.50 68.67L362.50 68.83L364.49 69.00L366.49 69.17L368.49 69.34L370.49 69.53L372.49 69.71L374.49 69.91L376.49 70.11L378.49 70.32L380.49 70.53L382.49 70.75L384.49 70.97L386.49 71.21L388.49 71.44L390.48 71.69L392.48 71.94L394.48 72.19L396.48 72.46L398.48 72.73L400.48 73.00L402.48 73.29L404.48 73.58L406.48 73.87L408.48 74.18L410.48 74.48L412.48 74.80L414.48 75.12L416.47 75.45L418.47 75.79L420.47 76.13L422.47 76.48L424.47 76.84L426.47 77.20L428.47 77.57L430.47 77.95L432.47 78.34L434.47 78.73L436.47 79.13L438.47 79.53L440.47 79.95L442.46 80.37L444.46 80.79L446.46 81.23L448.46 81.67L450.46 82.12L452.46 82.58L454.46 83.04L456.46 83.51L458.46 83.99L460.46 84.47L462.46 84.97L464.46 85.47L466.46 85.97L468.45 86.49L470.45 87.01L472.45 87.54L474.45 88.08L476.45 88.62L478.45 89.18L480.45 89.74L482.45 90.30L484.45 90.88L486.45 91.46L488.45 92.05L490.45 92.65L492.45 93.25L494.45 93.86L496.44 94.49L498.44 95.11L500.44 95.75L502.44 96.39L504.44 97.04L506.44 97.70L508.44 98.37L510.44 99.04L512.44 99.72L514.44 100.41L516.44 101.11L518.44 101.81L520.44 102.52L522.43 103.24L524.43 103.97L526.43 104.71L528.43 105.45L530.43 106.20L532.43 106.96L534.43 107.72L536.43 108.50L538.43 109.28L540.43 110.07L542.43 110.86L544.43 111.67L546.43 112.48L548.42 113.30L550.42 114.13L552.42 114.96L554.42 115.80L556.42 116.65L558.42 117.51L560.42 118.37L562.42 119.25L564.42 120.13L566.42 121.01L568.42 121.91L570.42 122.81L572.42 123.72L574.41 124.64L576.41 125.57L578.41 126.50L580.41 127.44L582.41 128.39L584.41 129.34L586.41 130.30L588.41 131.27L590.41 132.25L592.41 133.23L594.41 134.23L596.41 135.22L598.41 136.23L600.40 137.24L602.40 138.26L604.40 139.29L606.40 140.33L608.40 141.37L610.40 142.42L612.40 143.47L614.40 144.54L616.40 145.60L618.40 146.68L620.40 147.77L622.40 148.86L624.40 149.95L626.39 151.06L628.39 152.17L630.39 153.29L632.39 154.41L634.39 155.54L636.39 156.68L638.39 157.82L640.39 158.97L642.39 160.13L644.39 161.29L646.39 162.46L648.39 163.64L650.39 164.82L652.39 166.01L654.38 167.20L656.38 168.41L658.38 169.61L660.38 170.83L662.38 172.04L664.38 173.27L666.38 174.50L668.38 175.74L670.38 176.98L672.38 178.23L674.38 179.48L676.38 180.74L678.38 182.01L680.37 183.28L682.37 184.55L684.37 185.83L686.37 187.12L688.37 188.41L690.37 189.71L692.37 191.01L694.37 192.32L696.37 193.63L698.37 194.94L700.37 196.27L702.37 197.59L704.37 198.92L706.36 200.26L708.36 201.60L710.36 202.94L712.36 204.29L714.36 205.65L716.36 207.00L718.36 208.36L720.36 209.73L722.36 211.10L724.36 212.47L726.36 213.85L728.36 215.23L730.36 216.62L732.35 218.00L734.35 219.39L736.35 220.79L738.35 222.19L740.35 223.59L742.35 224.99L744.35 226.40L746.35 227.81L748.35 229.23L750.35 230.64L752.35 232.06L754.35 233.48L756.35 234.91L758.34 236.33L760.34 237.76L762.34 239.19L764.34 240.62L766.34 242.06L768.34 243.49L770.34 244.93L772.34 246.37L774.34 247.81L776.34 249.26L778.34 250.70L780.34 252.14L782.34 253.59L784.33 255.04L786.33 256.49L788.33 257.93L790.33 259.38L792.33 260.83L794.33 262.28L796.33 263.73L798.33 265.18L800.33 266.63L802.33 268.08L804.33 269.53L806.33 270.98L808.33 272.43L810.33 273.88L812.32 275.33L814.32 276.78L816.32 278.22L818.32 279.67L820.32 281.11L822.32 282.55L824.32 283.99L826.32 285.43L828.32 286.87L830.32 288.30L832.32 289.74L834.32 291.17L836.32 292.60L838.31 294.02L840.31 295.45L842.31 296.87L844.31 298.28L846.31 299.70L848.31 301.11L850.31 302.51L852.31 303.92L854.31 305.32L856.31 306.71L858.31 308.11L860.31 309.49L862.31 310.88L864.30 312.26L866.30 313.63L868.30 315.00L870.30 316.36L872.30 317.72L874.30 319.08L876.30 320.42" stroke="#0b4a8b" stroke-width="3.5"/>
</g>
<circle cx="545.2" cy="212.1" r="6" fill="#ff0000"/>
<circle cx="545.2" cy="250.9" r="6" fill="#ff0000"/>
<circle cx="553.4" cy="102.4" r="5" fill="#fff" stroke="#ff0000" stroke-width="1"/>
<circle cx="545.2" cy="111.5" r="6.1" fill="#ffff00" stroke="#ff0000" stroke-width="1.7"/>
<path d="M540.6 116.3L545.2 111.5" stroke="#ff0000" stroke-opacity="0.45" stroke-width="1"/>
<g stroke="#000" stroke-width="1">
<line x1="45.5" y1="0" x2="45.5" y2="391"/>
<g stroke-width="1.7"><line x1="38" y1="390.20" x2="45.3" y2="390.20"/>
<line x1="38" y1="365.83" x2="45.3" y2="365.83"/>
<line x1="38" y1="341.46" x2="45.3" y2="341.46"/>
<line x1="38" y1="317.09" x2="45.3" y2="317.09"/>
<line x1="38" y1="292.72" x2="45.3" y2="292.72"/>
<line x1="38" y1="268.35" x2="45.3" y2="268.35"/>
<line x1="38" y1="243.98" x2="45.3" y2="243.98"/>
<line x1="38" y1="219.61" x2="45.3" y2="219.61"/>
<line x1="38" y1="195.24" x2="45.3" y2="195.24"/>
<line x1="38" y1="170.87" x2="45.3" y2="170.87"/>
<line x1="38" y1="146.50" x2="45.3" y2="146.50"/>
<line x1="38" y1="122.13" x2="45.3" y2="122.13"/>
<line x1="38" y1="97.76" x2="45.3" y2="97.76"/>
<line x1="38" y1="73.39" x2="45.3" y2="73.39"/>
<line x1="38" y1="49.02" x2="45.3" y2="49.02"/>
<line x1="959" y1="390.20" x2="966.3" y2="390.20"/>
<line x1="959" y1="365.83" x2="966.3" y2="365.83"/>
<line x1="959" y1="341.46" x2="966.3" y2="341.46"/>
<line x1="959" y1="317.09" x2="966.3" y2="317.09"/>
<line x1="959" y1="292.72" x2="966.3" y2="292.72"/>
<line x1="959" y1="268.35" x2="966.3" y2="268.35"/>
<line x1="959" y1="243.98" x2="966.3" y2="243.98"/>
<line x1="959" y1="219.61" x2="966.3" y2="219.61"/>
<line x1="959" y1="195.24" x2="966.3" y2="195.24"/>
<line x1="959" y1="170.87" x2="966.3" y2="170.87"/>
<line x1="959" y1="146.50" x2="966.3" y2="146.50"/>
<line x1="45.10" y1="390.2" x2="45.10" y2="397.5"/>
<line x1="92.59" y1="390.2" x2="92.59" y2="397.5"/>
<line x1="140.08" y1="390.2" x2="140.08" y2="397.5"/>
<line x1="187.57" y1="390.2" x2="187.57" y2="397.5"/>
<line x1="235.06" y1="390.2" x2="235.06" y2="397.5"/>
<line x1="282.55" y1="390.2" x2="282.55" y2="397.5"/>
<line x1="330.04" y1="390.2" x2="330.04" y2="397.5"/>
<line x1="377.53" y1="390.2" x2="377.53" y2="397.5"/>
<line x1="425.02" y1="390.2" x2="425.02" y2="397.5"/>
<line x1="472.51" y1="390.2" x2="472.51" y2="397.5"/>
<line x1="520.00" y1="390.2" x2="520.00" y2="397.5"/>
<line x1="567.49" y1="390.2" x2="567.49" y2="397.5"/>
<line x1="614.98" y1="390.2" x2="614.98" y2="397.5"/>
<line x1="662.47" y1="390.2" x2="662.47" y2="397.5"/>
<line x1="709.96" y1="390.2" x2="709.96" y2="397.5"/>
<line x1="757.45" y1="390.2" x2="757.45" y2="397.5"/>
<line x1="804.94" y1="390.2" x2="804.94" y2="397.5"/>
<line x1="852.43" y1="390.2" x2="852.43" y2="397.5"/>
<line x1="899.92" y1="390.2" x2="899.92" y2="397.5"/>
<line x1="947.41" y1="390.2" x2="947.41" y2="397.5"/></g>
<line x1="38" y1="390.5" x2="959" y2="390.5"/>
<line x1="959" y1="0" x2="959" y2="391" stroke-width="1.6"/>
<line x1="45.4" y1="0.3" x2="959" y2="0.3" stroke="#9a9a9a"/>
</g>
<rect x="778.6" y="-1" width="180.4" height="33.7" fill="#fff" stroke="#777" stroke-width="1"/>
<text class="ls" x="785" y="18.8">TPE2 32-80, 3*460 V</text>
<text x="24.8" y="14.7" text-anchor="middle">H</text>
<text x="24.5" y="35" text-anchor="middle">[m]</text>
<text x="981" y="14.7" text-anchor="middle">eta</text>
<text x="981" y="35" text-anchor="middle">[%]</text>
<text x="32.5" y="395.1" text-anchor="end">0.0</text>
<text x="32.5" y="370.7" text-anchor="end">0.5</text>
<text x="32.5" y="346.4" text-anchor="end">1.0</text>
<text x="32.5" y="322.0" text-anchor="end">1.5</text>
<text x="32.5" y="297.6" text-anchor="end">2.0</text>
<text x="32.5" y="273.2" text-anchor="end">2.5</text>
<text x="32.5" y="248.9" text-anchor="end">3.0</text>
<text x="32.5" y="224.5" text-anchor="end">3.5</text>
<text x="32.5" y="200.1" text-anchor="end">4.0</text>
<text x="32.5" y="175.8" text-anchor="end">4.5</text>
<text x="32.5" y="151.4" text-anchor="end">5.0</text>
<text x="32.5" y="127.0" text-anchor="end">5.5</text>
<text x="32.5" y="102.7" text-anchor="end">6.0</text>
<text x="32.5" y="78.3" text-anchor="end">6.5</text>
<text x="971.5" y="395.1">0</text>
<text x="971.5" y="370.7">10</text>
<text x="971.5" y="346.4">20</text>
<text x="971.5" y="322.0">30</text>
<text x="971.5" y="297.6">40</text>
<text x="971.5" y="273.2">50</text>
<text x="971.5" y="248.9">60</text>
<text x="971.5" y="224.5">70</text>
<text x="971.5" y="200.1">80</text>
<text x="971.5" y="175.8">90</text>
<text x="971.5" y="151.4">100</text>
<text x="45.10" y="412.7" text-anchor="middle">0</text>
<text x="92.59" y="412.7" text-anchor="middle">1</text>
<text x="140.08" y="412.7" text-anchor="middle">2</text>
<text x="187.57" y="412.7" text-anchor="middle">3</text>
<text x="235.06" y="412.7" text-anchor="middle">4</text>
<text x="282.55" y="412.7" text-anchor="middle">5</text>
<text x="330.04" y="412.7" text-anchor="middle">6</text>
<text x="377.53" y="412.7" text-anchor="middle">7</text>
<text x="425.02" y="412.7" text-anchor="middle">8</text>
<text x="472.51" y="412.7" text-anchor="middle">9</text>
<text x="520.00" y="412.7" text-anchor="middle">10</text>
<text x="567.49" y="412.7" text-anchor="middle">11</text>
<text x="614.98" y="412.7" text-anchor="middle">12</text>
<text x="662.47" y="412.7" text-anchor="middle">13</text>
<text x="709.96" y="412.7" text-anchor="middle">14</text>
<text x="757.45" y="412.7" text-anchor="middle">15</text>
<text x="804.94" y="412.7" text-anchor="middle">16</text>
<text x="852.43" y="412.7" text-anchor="middle">17</text>
<text class="ls" x="888" y="412.5">Q [m³/h]</text>
<text x="348.5" y="68.7">100 %</text>
<text x="120" y="352.8">29 %</text>
<!-- info text -->
<text class="ls" x="48" y="446.8">Q = 10.53 m³/h</text>
<text class="ls" x="48" y="468">n = 100 % / 3450 rpm</text>
<text class="ls" x="48" y="489.3">Liquid temperature during operation = 20 °C</text>
<text class="ls" x="48" y="510.4">Eta pump = 73.2 %</text>
<text class="ls" x="433" y="446.8">H = 5.717 m</text>
<text class="ls" x="433" y="468">Pumped liquid = Water</text>
<text class="ls" x="433" y="489.3">Density = 998.2 kg/m³</text>
<text class="ls" x="433" y="510.4">Eta pump+motor+freq.converter = 57.2 %</text>
<!-- lower chart -->
<path d="M45.30 631.60L86.90 627.50L92.50 626.41L90.80 628.50L90.34 629.60L89.89 630.59L89.41 631.79L88.80 633.50L88.10 635.91L87.32 638.82L86.41 641.98L85.30 645.10L83.96 648.18L82.44 651.34L80.77 654.53L79.00 657.70L77.12 660.87L75.12 664.06L73.03 667.20L70.90 670.20L68.71 673.15L66.45 676.05L64.16 678.73L61.90 681.00L59.67 682.71L57.44 683.99L55.22 685.10L53.00 686.30L45.30 687.30Z" fill="#eef5fd"/>
<path d="M92.90 626.35L94.90 626.07L96.90 625.78L98.90 625.49L100.90 625.20L102.90 624.92L104.90 624.63L106.89 624.33L108.89 624.04L110.89 623.75L112.89 623.46L114.89 623.16L116.89 622.87L118.89 622.57L120.89 622.28L122.89 621.98L124.89 621.68L126.89 621.38L128.89 621.08L130.89 620.78L132.89 620.48L134.89 620.18L136.89 619.88L138.89 619.58L140.89 619.28L142.89 618.97L144.89 618.67L146.88 618.37L148.88 618.06L150.88 617.76L152.88 617.45L154.88 617.15L156.88 616.84L158.88 616.53L160.88 616.23L162.88 615.92L164.88 615.61L166.88 615.30L168.88 614.99L170.88 614.69L172.88 614.38L174.88 614.07L176.88 613.76L178.88 613.45L180.88 613.14L182.88 612.83L184.88 612.52L186.87 612.21L188.87 611.90L190.87 611.59L192.87 611.28L194.87 610.97L196.87 610.66L198.87 610.35L200.87 610.04L202.87 609.73L204.87 609.41L206.87 609.10L208.87 608.79L210.87 608.48L212.87 608.17L214.87 607.86L216.87 607.55L218.87 607.24L220.87 606.93L222.87 606.62L224.87 606.31L226.86 606.00L228.86 605.69L230.86 605.38L232.86 605.07L234.86 604.76L236.86 604.45L238.86 604.15L240.86 603.84L242.86 603.53L244.86 603.22L246.86 602.91L248.86 602.61L250.86 602.30L252.86 601.99L254.86 601.69L256.86 601.38L258.86 601.08L260.86 600.77L262.86 600.47L264.85 600.16L266.85 599.86L268.85 599.56L270.85 599.26L272.85 598.95L274.85 598.65L276.85 598.35L278.85 598.05L280.85 597.75L282.85 597.45L284.85 597.15L286.85 596.85L288.85 596.56L290.85 596.26L292.85 595.96L294.85 595.67L296.85 595.37L298.85 595.08L300.85 594.78L302.85 594.49L304.84 594.20L306.84 593.91L308.84 593.62L310.84 593.33L312.84 593.04L314.84 592.75L316.84 592.46L318.84 592.17L320.84 591.89L322.84 591.60L324.84 591.32L326.84 591.03L328.84 590.75L330.84 590.47L332.84 590.19L334.84 589.91L336.84 589.63L338.84 589.35L340.84 589.07L342.84 588.79L344.83 588.52L346.83 588.24L348.83 587.97L350.83 587.70L352.83 587.42L354.83 587.15L356.83 586.88L358.83 586.62L360.83 586.35L362.83 586.08L364.83 585.82L366.83 585.55L368.83 585.29L370.83 585.02L372.83 584.76L374.83 584.50L376.83 584.24L378.83 583.99L380.83 583.73L382.83 583.47L384.82 583.22L386.82 582.97L388.82 582.71L390.82 582.46L392.82 582.21L394.82 581.96L396.82 581.72L398.82 581.47L400.82 581.23L402.82 580.98L404.82 580.74L406.82 580.50L408.82 580.26L410.82 580.02L412.82 579.78L414.82 579.55L416.82 579.31L418.82 579.08L420.82 578.85L422.81 578.62L424.81 578.39L426.81 578.16L428.81 577.93L430.81 577.71L432.81 577.48L434.81 577.26L436.81 577.04L438.81 576.82L440.81 576.60L442.81 576.38L444.81 576.17L446.81 575.96L448.81 575.74L450.81 575.53L452.81 575.32L454.81 575.11L456.81 574.91L458.81 574.70L460.81 574.50L462.80 574.30L464.80 574.10L466.80 573.90L468.80 573.70L470.80 573.51L472.80 573.31L474.80 573.12L476.80 572.93L478.80 572.74L480.80 572.55L482.80 572.36L484.80 572.18L486.80 571.99L488.80 571.81L490.80 571.63L492.80 571.45L494.80 571.28L496.80 571.10L498.80 570.93L500.80 570.76L502.79 570.59L504.79 570.42L506.79 570.25L508.79 570.09L510.79 569.92L512.79 569.76L514.79 569.60L516.79 569.44L518.79 569.29L520.79 569.13L522.79 568.98L524.79 568.83L526.79 568.68L528.79 568.53L530.79 568.38L532.79 568.24L534.79 568.09L536.79 567.95L538.79 567.81L540.79 567.68L542.78 567.54L544.78 567.41L546.78 567.27L548.78 567.14L550.78 567.01L552.78 566.89L554.78 566.76L556.78 566.64L558.78 566.52L560.78 566.40L562.78 566.28L564.78 566.16L566.78 566.05L568.78 565.94L570.78 565.83L572.78 565.72L574.78 565.61L576.78 565.51L578.78 565.40L580.77 565.30L582.77 565.20L584.77 565.11L586.77 565.01L588.77 564.92L590.77 564.83L592.77 564.74L594.77 564.65L596.77 564.56L598.77 564.48L600.77 564.39L602.77 564.31L604.77 564.24L606.77 564.16L608.77 564.09L610.77 564.01L612.77 563.94L614.77 563.87L616.77 563.81L618.77 563.74L620.76 563.68L622.76 563.62L624.76 563.56L626.76 563.50L628.76 563.45L630.76 563.39L632.76 563.34L634.76 563.29L636.76 563.24L638.76 563.20L640.76 563.15L642.76 563.11L644.76 563.07L646.76 563.04L648.76 563.00L650.76 562.97L652.76 562.94L654.76 562.91L656.76 562.88L658.76 562.85L660.75 562.83L662.75 562.81L664.75 562.79L666.75 562.77L668.75 562.75L670.75 562.74L672.75 562.73L674.75 562.72L676.75 562.71L678.75 562.70L680.75 562.70L682.75 562.70L684.75 562.70L686.75 562.70L688.75 562.71L690.75 562.71L692.75 562.72L694.75 562.73L696.75 562.74L698.75 562.76L700.74 562.77L702.74 562.79L704.74 562.81L706.74 562.83L708.74 562.86L710.74 562.89L712.74 562.91L714.74 562.94L716.74 562.98L718.74 563.01L720.74 563.05L722.74 563.09L724.74 563.13L726.74 563.17L728.74 563.21L730.74 563.26L732.74 563.31L734.74 563.36L736.74 563.41L738.73 563.47L740.73 563.52L742.73 563.58L744.73 563.64L746.73 563.70L748.73 563.77L750.73 563.83L752.73 563.90L754.73 563.97L756.73 564.05L758.73 564.12L760.73 564.20L762.73 564.28L764.73 564.36L766.73 564.44L768.73 564.52L770.73 564.61L772.73 564.70L774.73 564.79L776.73 564.88L778.72 564.98L780.72 565.07L782.72 565.17L784.72 565.27L786.72 565.37L788.72 565.48L790.72 565.59L792.72 565.69L794.72 565.80L796.72 565.92L798.72 566.03L800.72 566.15L802.72 566.26L804.72 566.38L806.72 566.51L808.72 566.63L810.72 566.76L812.72 566.88L814.72 567.01L816.72 567.15L818.71 567.28L820.71 567.42L822.71 567.55L824.71 567.69L826.71 567.83L828.71 567.98L830.71 568.12L832.71 568.27L834.71 568.42L836.71 568.57L838.71 568.72L840.71 568.88L842.71 569.04L844.71 569.19L846.71 569.35L848.71 569.52L850.71 569.68L852.71 569.85L854.71 570.02L856.71 570.19L858.70 570.36L860.70 570.53L862.70 570.71L864.70 570.88L866.70 571.06L868.70 571.24L870.70 571.43L872.70 571.61L874.70 571.80L876.70 571.99L876.70 572.30L843.10 619.00L840.11 619.82L837.12 620.62L834.13 621.42L831.14 622.21L828.15 622.99L825.16 623.77L822.17 624.53L819.18 625.29L816.19 626.05L813.20 626.80L810.21 627.53L807.22 628.27L804.23 628.99L801.25 629.71L798.26 630.42L795.27 631.13L792.28 631.83L789.29 632.52L786.30 633.21L783.31 633.89L780.32 634.56L777.33 635.22L774.34 635.88L771.35 636.54L768.36 637.18L765.37 637.82L762.38 638.46L759.39 639.08L756.40 639.70L753.41 640.32L750.42 640.93L747.43 641.53L744.44 642.13L741.45 642.72L738.46 643.31L735.47 643.88L732.48 644.46L729.49 645.03L726.50 645.59L723.52 646.14L720.53 646.70L717.54 647.24L714.55 647.78L711.56 648.31L708.57 648.84L705.58 649.37L702.59 649.88L699.60 650.40L696.61 650.90L693.62 651.40L690.63 651.90L687.64 652.39L684.65 652.88L681.66 653.36L678.67 653.84L675.68 654.31L672.69 654.77L669.70 655.24L666.71 655.69L663.72 656.14L660.73 656.59L657.74 657.03L654.75 657.47L651.76 657.90L648.77 658.33L645.79 658.76L642.80 659.18L639.81 659.59L636.82 660.00L633.83 660.41L630.84 660.81L627.85 661.21L624.86 661.60L621.87 661.99L618.88 662.38L615.89 662.76L612.90 663.14L609.91 663.51L606.92 663.88L603.93 664.24L600.94 664.61L597.95 664.96L594.96 665.32L591.97 665.67L588.98 666.01L585.99 666.35L583.00 666.69L580.01 667.02L577.02 667.35L574.03 667.68L571.04 668.00L568.06 668.32L565.07 668.63L562.08 668.94L559.09 669.25L556.10 669.55L553.11 669.85L550.12 670.15L547.13 670.44L544.14 670.72L541.15 671.01L538.16 671.29L535.17 671.56L532.18 671.84L529.19 672.10L526.20 672.37L523.21 672.63L520.22 672.89L517.23 673.14L514.24 673.39L511.25 673.63L508.26 673.88L505.27 674.11L502.28 674.35L499.29 674.58L496.30 674.81L493.31 675.03L490.33 675.25L487.34 675.46L484.35 675.68L481.36 675.89L478.37 676.09L475.38 676.29L472.39 676.49L469.40 676.68L466.41 676.87L463.42 677.06L460.43 677.24L457.44 677.42L454.45 677.60L451.46 677.77L448.47 677.94L445.48 678.11L442.49 678.27L439.50 678.43L436.51 678.58L433.52 678.73L430.53 678.88L427.54 679.03L424.55 679.17L421.56 679.30L418.57 679.44L415.58 679.57L412.60 679.69L409.61 679.82L406.62 679.94L403.63 680.05L400.64 680.17L397.65 680.28L394.66 680.38L391.67 680.48L388.68 680.58L385.69 680.68L382.70 680.77L379.71 680.86L376.72 680.95L373.73 681.03L370.74 681.11L367.75 681.18L364.76 681.26L361.77 681.33L358.78 681.39L355.79 681.45L352.80 681.51L349.81 681.57L346.82 681.62L343.83 681.67L340.84 681.72L337.85 681.76L334.87 681.80L331.88 681.83L328.89 681.87L325.90 681.90L322.91 681.92L319.92 681.95L316.93 681.97L313.94 681.98L310.95 682.00L307.96 682.01L304.97 682.01L301.98 682.02L298.99 682.02L296.00 682.02L53.00 686.30L55.22 685.10L57.44 683.99L59.67 682.71L61.90 681.00L64.16 678.73L66.45 676.05L68.71 673.15L70.90 670.20L73.03 667.20L75.12 664.06L77.12 660.87L79.00 657.70L80.77 654.53L82.44 651.34L83.96 648.18L85.30 645.10L86.41 641.98L87.32 638.82L88.10 635.91L88.80 633.50L89.41 631.79L89.89 630.59L90.34 629.60L90.80 628.50Z" fill="#d0dce8"/>
<g stroke="#aeb3b8" stroke-opacity="0.45" stroke-width="1">
<line x1="92.59" y1="520.7" x2="92.59" y2="687.3"/>
<line x1="140.08" y1="520.7" x2="140.08" y2="687.3"/>
<line x1="187.57" y1="520.7" x2="187.57" y2="687.3"/>
<line x1="235.06" y1="520.7" x2="235.06" y2="687.3"/>
<line x1="282.55" y1="520.7" x2="282.55" y2="687.3"/>
<line x1="330.04" y1="520.7" x2="330.04" y2="687.3"/>
<line x1="377.53" y1="520.7" x2="377.53" y2="687.3"/>
<line x1="425.02" y1="520.7" x2="425.02" y2="687.3"/>
<line x1="472.51" y1="520.7" x2="472.51" y2="687.3"/>
<line x1="520.00" y1="520.7" x2="520.00" y2="687.3"/>
<line x1="567.49" y1="520.7" x2="567.49" y2="687.3"/>
<line x1="614.98" y1="520.7" x2="614.98" y2="687.3"/>
<line x1="662.47" y1="520.7" x2="662.47" y2="687.3"/>
<line x1="709.96" y1="520.7" x2="709.96" y2="687.3"/>
<line x1="757.45" y1="520.7" x2="757.45" y2="687.3"/>
<line x1="804.94" y1="520.7" x2="804.94" y2="687.3"/>
<line x1="852.43" y1="520.7" x2="852.43" y2="687.3"/>
<line x1="899.92" y1="520.7" x2="899.92" y2="687.3"/>
<line x1="947.41" y1="520.7" x2="947.41" y2="687.3"/>
<line x1="45.3" y1="645.65" x2="959" y2="645.65"/>
<line x1="45.3" y1="604.00" x2="959" y2="604.00"/>
<line x1="45.3" y1="562.35" x2="959" y2="562.35"/>
</g>
<line x1="45.4" y1="687.3" x2="959" y2="687.3" stroke="#999" stroke-width="1.3"/>
<g fill="none" stroke-linecap="round" stroke-linejoin="round">
<path d="M45.3 687.3L86.9 684.6" stroke="#000" stroke-width="0.8" stroke-opacity="0.6"/>
<path d="M104 685.9L296 685.4" stroke="#0b4a8b" stroke-width="2"/>
<path d="M57 687.4L150 687.2L235 686.6L270 685.2L296 683.6" stroke="#000" stroke-width="2.4"/>
<path d="M86.90 684.40L100.72 684.29L114.08 684.18L127.25 684.08L140.52 683.98L154.15 683.87L168.43 683.75L183.62 683.63L200.00 683.50L217.58 683.37L236.11 683.26L255.46 683.15L275.49 683.03L296.09 682.89L317.13 682.71L338.47 682.48L360.00 682.20L382.56 681.84L406.65 681.41L431.58 680.94L456.68 680.43L481.26 679.90L504.67 679.37L526.20 678.87L545.20 678.40L561.87 677.95L576.96 677.49L590.56 677.03L602.78 676.58L613.73 676.15L623.52 675.76L632.24 675.40L640.00 675.10L646.08 674.87L650.08 674.70L652.57 674.59L654.11 674.50L655.28 674.42L656.65 674.32L658.80 674.19L662.30 674.00L667.03 673.76L672.40 673.49L678.27 673.20L684.47 672.89L690.88 672.56L697.33 672.21L703.69 671.86L709.80 671.50L715.74 671.15L721.68 670.80L727.62 670.45L733.56 670.09L739.50 669.69L745.44 669.25L751.37 668.76L757.30 668.20L763.22 667.60L769.13 666.99L775.03 666.34L780.94 665.64L786.84 664.86L792.75 664.00L798.67 663.01L804.60 661.90L810.70 660.60L817.04 659.10L823.48 657.47L829.88 655.76L836.10 654.02L842.00 652.31L847.45 650.69L852.30 649.20L856.46 647.84L860.04 646.56L863.16 645.34L865.96 644.16L868.57 643.01L871.15 641.85L873.81 640.69L876.70 639.50" stroke="#000" stroke-width="3.2"/>
<path d="M45.3 676.6L57 676.2" stroke="#0b4a8b" stroke-width="1"/>
<path d="M57 676.2L180 675.2L296 674.6" stroke="#0b4a8b" stroke-width="2.4"/>
<path d="M45.3 655.6L86.9 651" stroke="#0b4a8b" stroke-width="1"/>
<path d="M86.90 651.16L88.90 650.86L90.90 650.57L92.90 650.27L94.90 649.98L96.90 649.68L98.90 649.39L100.90 649.09L102.90 648.79L104.90 648.50L106.89 648.20L108.89 647.90L110.89 647.60L112.89 647.31L114.89 647.01L116.89 646.71L118.89 646.41L120.89 646.11L122.89 645.82L124.89 645.52L126.89 645.22L128.89 644.92L130.89 644.62L132.89 644.32L134.89 644.02L136.89 643.72L138.89 643.42L140.89 643.12L142.89 642.82L144.89 642.52L146.88 642.22L148.88 641.92L150.88 641.62L152.88 641.32L154.88 641.02L156.88 640.72L158.88 640.42L160.88 640.12L162.88 639.82L164.88 639.52L166.88 639.22L168.88 638.92L170.88 638.62L172.88 638.32L174.88 638.02L176.88 637.72L178.88 637.42L180.88 637.12L182.88 636.82L184.88 636.52L186.87 636.23L188.87 635.93L190.87 635.63L192.87 635.33L194.87 635.03L196.87 634.73L198.87 634.43L200.87 634.14L202.87 633.84L204.87 633.54L206.87 633.25L208.87 632.95L210.87 632.65L212.87 632.36L214.87 632.06L216.87 631.76L218.87 631.47L220.87 631.17L222.87 630.88L224.87 630.59L226.86 630.29L228.86 630.00L230.86 629.70L232.86 629.41L234.86 629.12L236.86 628.83L238.86 628.53L240.86 628.24L242.86 627.95L244.86 627.66L246.86 627.37L248.86 627.08L250.86 626.79L252.86 626.50L254.86 626.21L256.86 625.93L258.86 625.64L260.86 625.35L262.86 625.07L264.85 624.78L266.85 624.49L268.85 624.21L270.85 623.93L272.85 623.64L274.85 623.36L276.85 623.08L278.85 622.79L280.85 622.51L282.85 622.23L284.85 621.95L286.85 621.67L288.85 621.39L290.85 621.11L292.85 620.84L294.85 620.56L296.85 620.28L298.85 620.01L300.85 619.73L302.85 619.46L304.84 619.18L306.84 618.91L308.84 618.64L310.84 618.36L312.84 618.09L314.84 617.82L316.84 617.55L318.84 617.28L320.84 617.02L322.84 616.75L324.84 616.48L326.84 616.22L328.84 615.95L330.84 615.69L332.84 615.42L334.84 615.16L336.84 614.90L338.84 614.64L340.84 614.38L342.84 614.12L344.83 613.86L346.83 613.60L348.83 613.35L350.83 613.09L352.83 612.84L354.83 612.58L356.83 612.33L358.83 612.08L360.83 611.82L362.83 611.57L364.83 611.32L366.83 611.08L368.83 610.83L370.83 610.58L372.83 610.34L374.83 610.09L376.83 609.85L378.83 609.61L380.83 609.36L382.83 609.12L384.82 608.88L386.82 608.64L388.82 608.41L390.82 608.17L392.82 607.93L394.82 607.70L396.82 607.47L398.82 607.23L400.82 607.00L402.82 606.77L404.82 606.54L406.82 606.31L408.82 606.09L410.82 605.86L412.82 605.64L414.82 605.41L416.82 605.19L418.82 604.97L420.82 604.75L422.81 604.53L424.81 604.31L426.81 604.10L428.81 603.88L430.81 603.67L432.81 603.45L434.81 603.24L436.81 603.03L438.81 602.82L440.81 602.61L442.81 602.40L444.81 602.20L446.81 601.99L448.81 601.79L450.81 601.59L452.81 601.39L454.81 601.19L456.81 600.99L458.81 600.79L460.81 600.60L462.80 600.40L464.80 600.21L466.80 600.02L468.80 599.83L470.80 599.64L472.80 599.45L474.80 599.26L476.80 599.08L478.80 598.89L480.80 598.71L482.80 598.53L484.80 598.35L486.80 598.17L488.80 597.99L490.80 597.82L492.80 597.65L494.80 597.47L496.80 597.30L498.80 597.13L500.80 596.96L502.79 596.80L504.79 596.63L506.79 596.47L508.79 596.30L510.79 596.14L512.79 595.98L514.79 595.82L516.79 595.67L518.79 595.51L520.79 595.36L522.79 595.20L524.79 595.05L526.79 594.90L528.79 594.76L530.79 594.61L532.79 594.47L534.79 594.32L536.79 594.18L538.79 594.04L540.79 593.90L542.78 593.76L544.78 593.63L546.78 593.50L548.78 593.36L550.78 593.23L552.78 593.10L554.78 592.98L556.78 592.85L558.78 592.73L560.78 592.60L562.78 592.48L564.78 592.36L566.78 592.24L568.78 592.13L570.78 592.01L572.78 591.90L574.78 591.79L576.78 591.68L578.78 591.57L580.77 591.47L582.77 591.36L584.77 591.26L586.77 591.16L588.77 591.06L590.77 590.96L592.77 590.86L594.77 590.77L596.77 590.68L598.77 590.59L600.77 590.50L602.77 590.41L604.77 590.32L606.77 590.24L608.77 590.16L610.77 590.08L612.77 590.00L614.77 589.92L616.77 589.85L618.77 589.77L620.76 589.70L622.76 589.63L624.76 589.56L626.76 589.50L628.76 589.43L630.76 589.37L632.76 589.31L634.76 589.25L636.76 589.19L638.76 589.14L640.76 589.08L642.76 589.03L644.76 588.98L646.76 588.94L648.76 588.89L650.76 588.85L652.76 588.80L654.76 588.76L656.76 588.72L658.76 588.69L660.75 588.65L662.75 588.62L664.75 588.59L666.75 588.56L668.75 588.53L670.75 588.51L672.75 588.49L674.75 588.46L676.75 588.44L678.75 588.43L680.75 588.41L682.75 588.40L684.75 588.39L686.75 588.38L688.75 588.37L690.75 588.36L692.75 588.36L694.75 588.36L696.75 588.36L698.75 588.36L700.74 588.36L702.74 588.37L704.74 588.38L706.74 588.39L708.74 588.40L710.74 588.41L712.74 588.43L714.74 588.45L716.74 588.47L718.74 588.49L720.74 588.52L722.74 588.54L724.74 588.57L726.74 588.60L728.74 588.63L730.74 588.67L732.74 588.70L734.74 588.74L736.74 588.78L738.73 588.83L740.73 588.87L742.73 588.92L744.73 588.97L746.73 589.02L748.73 589.07L750.73 589.13L752.73 589.18L754.73 589.24L756.73 589.31L758.73 589.37L760.73 589.43L762.73 589.50L764.73 589.57L766.73 589.65L768.73 589.72L770.73 589.80L772.73 589.87L774.73 589.96L776.73 590.04L778.72 590.12L780.72 590.21L782.72 590.30L784.72 590.39L786.72 590.49L788.72 590.58L790.72 590.68L792.72 590.78L794.72 590.88L796.72 590.99L798.72 591.09L800.72 591.20L802.72 591.31L804.72 591.43L806.72 591.54L808.72 591.66L810.72 591.78L812.72 591.90L814.72 592.03L816.72 592.15L818.71 592.28L820.71 592.41L822.71 592.55L824.71 592.68L826.71 592.82L828.71 592.96L830.71 593.10L832.71 593.25L834.71 593.39L836.71 593.54L838.71 593.69L840.71 593.85L842.71 594.00L844.71 594.16L846.71 594.32L848.71 594.48L850.71 594.65L852.71 594.82L854.71 594.99L856.71 595.16L858.70 595.33L860.70 595.51L862.70 595.69L864.70 595.87L866.70 596.05L868.70 596.24L870.70 596.42L872.70 596.61L874.70 596.81L876.70 597.00" stroke="#0b4a8b" stroke-width="2.5"/>
<path d="M45.3 631.6L86.9 627.5" stroke="#0b4a8b" stroke-width="1"/>
<path d="M86.90 627.20L88.90 626.92L90.90 626.64L92.90 626.35L94.90 626.07L96.90 625.78L98.90 625.49L100.90 625.20L102.90 624.92L104.90 624.63L106.89 624.33L108.89 624.04L110.89 623.75L112.89 623.46L114.89 623.16L116.89 622.87L118.89 622.57L120.89 622.28L122.89 621.98L124.89 621.68L126.89 621.38L128.89 621.08L130.89 620.78L132.89 620.48L134.89 620.18L136.89 619.88L138.89 619.58L140.89 619.28L142.89 618.97L144.89 618.67L146.88 618.37L148.88 618.06L150.88 617.76L152.88 617.45L154.88 617.15L156.88 616.84L158.88 616.53L160.88 616.23L162.88 615.92L164.88 615.61L166.88 615.30L168.88 614.99L170.88 614.69L172.88 614.38L174.88 614.07L176.88 613.76L178.88 613.45L180.88 613.14L182.88 612.83L184.88 612.52L186.87 612.21L188.87 611.90L190.87 611.59L192.87 611.28L194.87 610.97L196.87 610.66L198.87 610.35L200.87 610.04L202.87 609.73L204.87 609.41L206.87 609.10L208.87 608.79L210.87 608.48L212.87 608.17L214.87 607.86L216.87 607.55L218.87 607.24L220.87 606.93L222.87 606.62L224.87 606.31L226.86 606.00L228.86 605.69L230.86 605.38L232.86 605.07L234.86 604.76L236.86 604.45L238.86 604.15L240.86 603.84L242.86 603.53L244.86 603.22L246.86 602.91L248.86 602.61L250.86 602.30L252.86 601.99L254.86 601.69L256.86 601.38L258.86 601.08L260.86 600.77L262.86 600.47L264.85 600.16L266.85 599.86L268.85 599.56L270.85 599.26L272.85 598.95L274.85 598.65L276.85 598.35L278.85 598.05L280.85 597.75L282.85 597.45L284.85 597.15L286.85 596.85L288.85 596.56L290.85 596.26L292.85 595.96L294.85 595.67L296.85 595.37L298.85 595.08L300.85 594.78L302.85 594.49L304.84 594.20L306.84 593.91L308.84 593.62L310.84 593.33L312.84 593.04L314.84 592.75L316.84 592.46L318.84 592.17L320.84 591.89L322.84 591.60L324.84 591.32L326.84 591.03L328.84 590.75L330.84 590.47L332.84 590.19L334.84 589.91L336.84 589.63L338.84 589.35L340.84 589.07L342.84 588.79L344.83 588.52L346.83 588.24L348.83 587.97L350.83 587.70L352.83 587.42L354.83 587.15L356.83 586.88L358.83 586.62L360.83 586.35L362.83 586.08L364.83 585.82L366.83 585.55L368.83 585.29L370.83 585.02L372.83 584.76L374.83 584.50L376.83 584.24L378.83 583.99L380.83 583.73L382.83 583.47L384.82 583.22L386.82 582.97L388.82 582.71L390.82 582.46L392.82 582.21L394.82 581.96L396.82 581.72L398.82 581.47L400.82 581.23L402.82 580.98L404.82 580.74L406.82 580.50L408.82 580.26L410.82 580.02L412.82 579.78L414.82 579.55L416.82 579.31L418.82 579.08L420.82 578.85L422.81 578.62L424.81 578.39L426.81 578.16L428.81 577.93L430.81 577.71L432.81 577.48L434.81 577.26L436.81 577.04L438.81 576.82L440.81 576.60L442.81 576.38L444.81 576.17L446.81 575.96L448.81 575.74L450.81 575.53L452.81 575.32L454.81 575.11L456.81 574.91L458.81 574.70L460.81 574.50L462.80 574.30L464.80 574.10L466.80 573.90L468.80 573.70L470.80 573.51L472.80 573.31L474.80 573.12L476.80 572.93L478.80 572.74L480.80 572.55L482.80 572.36L484.80 572.18L486.80 571.99L488.80 571.81L490.80 571.63L492.80 571.45L494.80 571.28L496.80 571.10L498.80 570.93L500.80 570.76L502.79 570.59L504.79 570.42L506.79 570.25L508.79 570.09L510.79 569.92L512.79 569.76L514.79 569.60L516.79 569.44L518.79 569.29L520.79 569.13L522.79 568.98L524.79 568.83L526.79 568.68L528.79 568.53L530.79 568.38L532.79 568.24L534.79 568.09L536.79 567.95L538.79 567.81L540.79 567.68L542.78 567.54L544.78 567.41L546.78 567.27L548.78 567.14L550.78 567.01L552.78 566.89L554.78 566.76L556.78 566.64L558.78 566.52L560.78 566.40L562.78 566.28L564.78 566.16L566.78 566.05L568.78 565.94L570.78 565.83L572.78 565.72L574.78 565.61L576.78 565.51L578.78 565.40L580.77 565.30L582.77 565.20L584.77 565.11L586.77 565.01L588.77 564.92L590.77 564.83L592.77 564.74L594.77 564.65L596.77 564.56L598.77 564.48L600.77 564.39L602.77 564.31L604.77 564.24L606.77 564.16L608.77 564.09L610.77 564.01L612.77 563.94L614.77 563.87L616.77 563.81L618.77 563.74L620.76 563.68L622.76 563.62L624.76 563.56L626.76 563.50L628.76 563.45L630.76 563.39L632.76 563.34L634.76 563.29L636.76 563.24L638.76 563.20L640.76 563.15L642.76 563.11L644.76 563.07L646.76 563.04L648.76 563.00L650.76 562.97L652.76 562.94L654.76 562.91L656.76 562.88L658.76 562.85L660.75 562.83L662.75 562.81L664.75 562.79L666.75 562.77L668.75 562.75L670.75 562.74L672.75 562.73L674.75 562.72L676.75 562.71L678.75 562.70L680.75 562.70L682.75 562.70L684.75 562.70L686.75 562.70L688.75 562.71L690.75 562.71L692.75 562.72L694.75 562.73L696.75 562.74L698.75 562.76L700.74 562.77L702.74 562.79L704.74 562.81L706.74 562.83L708.74 562.86L710.74 562.89L712.74 562.91L714.74 562.94L716.74 562.98L718.74 563.01L720.74 563.05L722.74 563.09L724.74 563.13L726.74 563.17L728.74 563.21L730.74 563.26L732.74 563.31L734.74 563.36L736.74 563.41L738.73 563.47L740.73 563.52L742.73 563.58L744.73 563.64L746.73 563.70L748.73 563.77L750.73 563.83L752.73 563.90L754.73 563.97L756.73 564.05L758.73 564.12L760.73 564.20L762.73 564.28L764.73 564.36L766.73 564.44L768.73 564.52L770.73 564.61L772.73 564.70L774.73 564.79L776.73 564.88L778.72 564.98L780.72 565.07L782.72 565.17L784.72 565.27L786.72 565.37L788.72 565.48L790.72 565.59L792.72 565.69L794.72 565.80L796.72 565.92L798.72 566.03L800.72 566.15L802.72 566.26L804.72 566.38L806.72 566.51L808.72 566.63L810.72 566.76L812.72 566.88L814.72 567.01L816.72 567.15L818.71 567.28L820.71 567.42L822.71 567.55L824.71 567.69L826.71 567.83L828.71 567.98L830.71 568.12L832.71 568.27L834.71 568.42L836.71 568.57L838.71 568.72L840.71 568.88L842.71 569.04L844.71 569.19L846.71 569.35L848.71 569.52L850.71 569.68L852.71 569.85L854.71 570.02L856.71 570.19L858.70 570.36L860.70 570.53L862.70 570.71L864.70 570.88L866.70 571.06L868.70 571.24L870.70 571.43L872.70 571.61L874.70 571.80L876.70 571.99" stroke="#0b4a8b" stroke-width="3.5"/>
</g>
<circle cx="545.2" cy="568" r="6" fill="#ff0000"/>
<circle cx="545.2" cy="594" r="6" fill="#ff0000"/>
<circle cx="545.2" cy="678.4" r="6" fill="#ff0000"/>
<g stroke="#000" stroke-width="1">
<line x1="45.5" y1="520" x2="45.5" y2="688"/>
<line x1="959" y1="520" x2="959" y2="688" stroke-width="1.6"/>
<line x1="45.5" y1="520.5" x2="959" y2="520.5"/>
<g stroke-width="1.7"><line x1="38" y1="687.30" x2="45.3" y2="687.30"/>
<line x1="38" y1="645.65" x2="45.3" y2="645.65"/>
<line x1="38" y1="604.00" x2="45.3" y2="604.00"/>
<line x1="38" y1="562.35" x2="45.3" y2="562.35"/>
<line x1="959" y1="687.30" x2="966.3" y2="687.30"/>
<line x1="959" y1="666.47" x2="966.3" y2="666.47"/>
<line x1="959" y1="645.65" x2="966.3" y2="645.65"/>
<line x1="959" y1="624.82" x2="966.3" y2="624.82"/>
<line x1="959" y1="604.00" x2="966.3" y2="604.00"/>
<line x1="959" y1="583.17" x2="966.3" y2="583.17"/>
<line x1="959" y1="562.35" x2="966.3" y2="562.35"/>
<line x1="959" y1="541.52" x2="966.3" y2="541.52"/></g>
</g>
<text x="32.5" y="692.2" text-anchor="end">0</text>
<text x="32.5" y="650.5" text-anchor="end">100</text>
<text x="32.5" y="608.9" text-anchor="end">200</text>
<text x="971.5" y="692.2">0</text>
<text x="971.5" y="671.4">5</text>
<text x="971.5" y="650.5">10</text>
<text x="971.5" y="629.7">15</text>
<text x="971.5" y="608.9">20</text>
<text x="971.5" y="588.1">25</text>
<text x="22.5" y="534.6" text-anchor="middle">P</text>
<text x="22" y="556.2" text-anchor="middle">[W]</text>
<text x="990.5" y="535" text-anchor="middle">NPSH</text>
<text x="990" y="557" text-anchor="middle">[m]</text>
<text class="ls" x="752" y="560.5" style="fill:#2a5d8f">P1 (motor+freq.converter)</text>
<text x="865" y="612.9" style="fill:#2a5d8f">P2</text>
<text class="ls" x="48" y="715.7">P1 (motor+freq.converter) = 286.3 W</text>
<text class="ls" x="48" y="737.3">P2 = 223.7 W</text>
<text class="ls" x="48" y="758.2">NPSH = 2.24 m</text>
</svg>
</body></html>
